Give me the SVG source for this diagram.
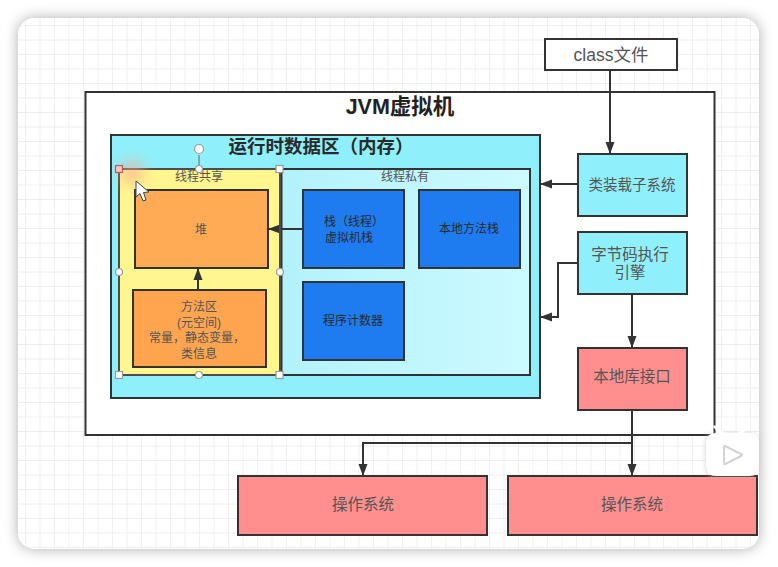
<svg xmlns="http://www.w3.org/2000/svg" width="778" height="567" viewBox="0 0 778 567">
<defs>
<marker id="arr" markerWidth="12" markerHeight="10" refX="11" refY="5" orient="auto" markerUnits="userSpaceOnUse"><path d="M0,0.5 L12,5 L0,9.5 Z" fill="#333"/></marker>
<pattern id="grid" width="14.5" height="14.5" patternUnits="userSpaceOnUse" x="11.5" y="11.5"><path d="M14.5,0 V14.5 M0,14.5 H14.5" fill="none" stroke="#e9e9e9" stroke-width="1.300"/></pattern>
<filter id="sh" x="-5%" y="-5%" width="110%" height="110%"><feGaussianBlur stdDeviation="7"/></filter>
<filter id="soft" x="-100%" y="-100%" width="300%" height="300%"><feGaussianBlur stdDeviation="7"/></filter>
<filter id="iconsh" x="-20%" y="-20%" width="140%" height="140%"><feGaussianBlur stdDeviation="2"/></filter>
<linearGradient id="priv" x1="0" y1="0" x2="1" y2="0"><stop offset="0" stop-color="#b3f2fb"/><stop offset="1" stop-color="#ccfaff"/></linearGradient>
</defs>
<style>
text{font-family:"Liberation Sans","Noto Sans CJK SC",sans-serif;text-anchor:middle;fill:#555}
.k{stroke:#333;stroke-width:2}
.c{fill:none;stroke:#333;stroke-width:2}
.h{fill:#fff;stroke:#9a9a9a;stroke-width:1.2}
.s13{font-size:12px}
.s14{font-size:15.500px}
.d{fill:#2a2a2a}
</style>
<rect width="778" height="567" fill="#fff"/>
<rect x="18" y="18" width="741" height="531" rx="16" fill="#777" opacity="0.6" filter="url(#sh)"/>
<rect x="18" y="18" width="741" height="531" rx="16" fill="#fff"/>
<rect x="18" y="18" width="741" height="531" rx="16" fill="url(#grid)"/>

<g id="jvm"><rect x="85.500" y="92" width="629" height="343" fill="#fff" class="k"/><text x="400" y="114" style="font-size:21.500px;font-weight:700;fill:#222">JVM虚拟机</text></g>
<g id="runtime"><rect x="111" y="135" width="429" height="263" fill="#8ff0fb" class="k"/><text x="321" y="153" style="font-size:18.500px;font-weight:700;fill:#2a2a2a">运行时数据区（内存）</text></g>
<g id="private"><rect x="281" y="169" width="249" height="206" fill="url(#priv)" class="k"/><text x="405" y="181" class="s13">线程私有</text></g>
<g id="shared"><rect x="119" y="169" width="161" height="206" fill="#fff68f" class="k"/><rect x="280" y="169" width="2.500" height="206" fill="#333"/><text x="199" y="181" class="s13">线程共享</text></g>
<g id="heap"><rect x="135" y="190" width="133" height="78" fill="#ffab55" class="k"/><text x="201" y="234" class="s13">堆</text></g>
<g id="method"><rect x="133" y="290" width="133" height="77" fill="#ffa550" class="k"/><text class="s13"><tspan x="199" y="311">方法区</tspan><tspan x="199" y="327">(元空间)</tspan><tspan x="197" y="342">常量，静态变量，</tspan><tspan x="199" y="358">类信息</tspan></text></g>
<g id="stack"><rect x="303" y="190" width="101" height="78" fill="#1f7cf0" class="k"/><text class="s13 d"><tspan x="354" y="226">栈（线程）</tspan><tspan x="349" y="242">虚拟机栈</tspan></text></g>
<g id="native-stack"><rect x="419" y="190" width="101" height="78" fill="#1f7cf0" class="k"/><text x="469" y="233" class="s13 d">本地方法栈</text></g>
<g id="pc"><rect x="303" y="282" width="101" height="78" fill="#1f7cf0" class="k"/><text x="353" y="325" class="s13 d">程序计数器</text></g>
<g id="classfile"><rect x="545" y="39" width="132" height="31" fill="#fff" class="k"/><text x="611" y="61" style="font-size:17.500px">class文件</text></g>
<g id="loader"><rect x="578" y="154" width="109" height="62" fill="#8ff0fb" class="k"/><text x="632" y="190" style="font-size:14.500px">类装载子系统</text></g>
<g id="engine"><rect x="578" y="232" width="109" height="62" fill="#8ff0fb" class="k"/><text class="s14"><tspan x="630" y="260">字节码执行</tspan><tspan x="630" y="278">引擎</tspan></text></g>
<g id="native-if"><rect x="578" y="348" width="109" height="62" fill="#ff8f8f" class="k"/><text x="632" y="382" class="s14">本地库接口</text></g>
<g id="os1"><rect x="238" y="476" width="249" height="59" fill="#ff8f8f" class="k"/><text x="363" y="510" class="s14">操作系统</text></g>
<g id="os2"><rect x="508" y="476" width="249" height="59" fill="#ff8f8f" class="k"/><text x="632" y="510" class="s14">操作系统</text></g>

<g id="connectors">
<path class="c" marker-end="url(#arr)" d="M610,70 V153"/>
<path class="c" marker-end="url(#arr)" d="M578,184 H541"/>
<path class="c" marker-end="url(#arr)" d="M578,263 H558 V317 H541"/>
<path class="c" marker-end="url(#arr)" d="M632,294 V347"/>
<path class="c" marker-end="url(#arr)" d="M632,410 V475"/>
<path class="c" marker-end="url(#arr)" d="M632,443 H363 V475"/>
<path class="c" marker-end="url(#arr)" d="M303,229 H269"/>
<path class="c" marker-end="url(#arr)" d="M198,290 V269"/>
</g>

<g id="selection">
<rect x="119" y="169" width="161" height="206" fill="none" stroke="#666" stroke-width="1"/>
<path d="M199,169 V155" stroke="#888" stroke-width="1.500" fill="none"/>
<circle class="h" cx="199" cy="149" r="4.500"/>
<circle class="h" cx="199" cy="169" r="3.500"/>
<circle class="h" cx="119" cy="272" r="3.500"/>
<circle class="h" cx="280" cy="272" r="3.500"/>
<circle class="h" cx="199" cy="375" r="3.500"/>
<rect class="h" x="276" y="165.500" width="7" height="7"/>
<rect class="h" x="115.500" y="371.500" width="7" height="7"/>
<rect class="h" x="276" y="371.500" width="7" height="7"/>
</g>
<circle cx="132" cy="172" r="13" fill="#f7a98f" opacity="0.55" filter="url(#soft)"/>
<rect x="115.500" y="165.500" width="7" height="7" fill="#ffc0c0" stroke="#b06060" stroke-width="1.200"/>
<path d="M136,181 L136,197 L140,193.500 L143,201 L146,200 L143.500,192.500 L149,192 Z" fill="#fff" stroke="#444" stroke-width="1"/>

<path d="M708,434 Q707,434 705,446 V466 Q705,476 714,476 H749 Q759,476 759,466 V442 Q759,433 750,433 Z" fill="#bbb" opacity="0.5" filter="url(#iconsh)"/>
<path d="M719,433 L713,427 Q714,424 717,426 L725,433 H738 L745,426 Q748,424 748,428 L743,433 H750 Q759,433 759,442 V466 Q759,476 749,476 H716 Q706,476 706,466 V443 Q706,433 716,433 Z" fill="#fff"/>
<path d="M725,446 L741,454 Q743,455 741,456 L725,464 Q724,465 724,462 V448 Q724,445 725,446 Z" fill="#fff" stroke="#d4d4d4" stroke-width="2"/>
</svg>
